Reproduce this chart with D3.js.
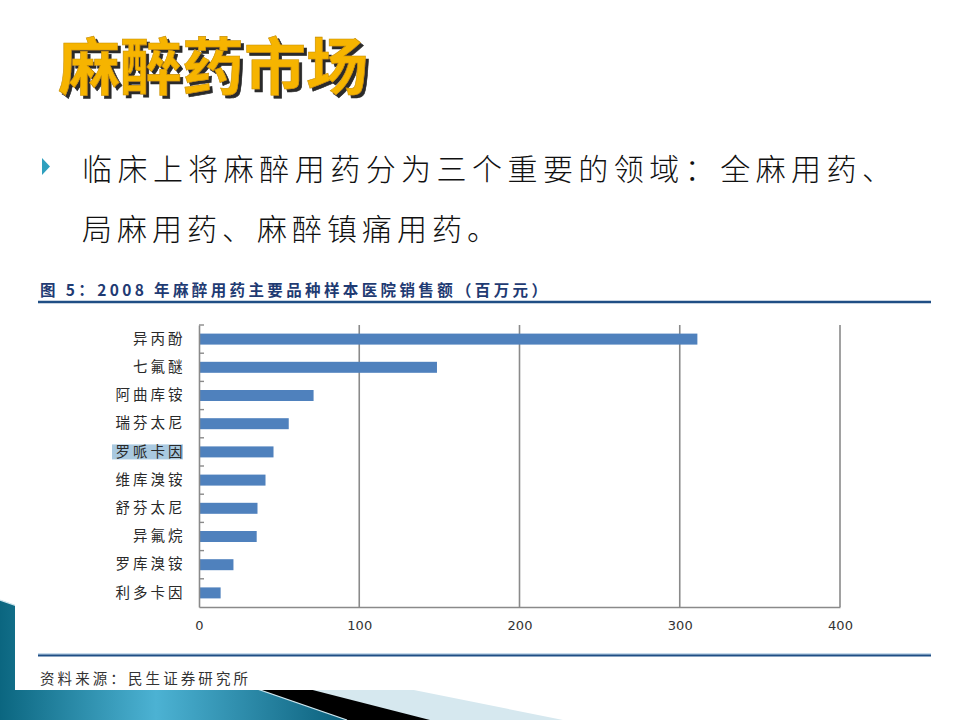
<!DOCTYPE html>
<html><head><meta charset="utf-8">
<script src="https://cdn.jsdelivr.net/npm/d3@7"></script>
<style>html,body{margin:0;padding:0;background:#fff;}svg{display:block;}</style>
</head><body>
<script>
const titleText = "麻醉药市场";
const bulletLines = ["临床上将麻醉用药分为三个重要的领域：全麻用药、", "局麻用药、麻醉镇痛用药。"];
const chartTitle = "图 5：2008 年麻醉用药主要品种样本医院销售额（百万元）";
const sourceText = "资料来源：民生证券研究所";
const categories = ["异丙酚","七氟醚","阿曲库铵","瑞芬太尼","罗哌卡因","维库溴铵","舒芬太尼","异氟烷","罗库溴铵","利多卡因"];
const sales = [311, 148.5, 71.5, 56, 46.5, 41.5, 36.5, 36, 21.5, 13.5];
const xTicks = [0, 100, 200, 300, 400];
const highlighted = "罗哌卡因";

const W = 960, H = 720;
const svg = d3.select("body").append("svg").attr("width", W).attr("height", H);
const defs = svg.append("defs");
const g1 = defs.append("linearGradient").attr("id","teal").attr("x1","0").attr("y1","0").attr("x2","1").attr("y2","0");
g1.append("stop").attr("offset","0").attr("stop-color","#0b6680");
g1.append("stop").attr("offset","0.45").attr("stop-color","#4cb2d3");
g1.append("stop").attr("offset","1").attr("stop-color","#0a5f7b");
const f = defs.append("filter").attr("id","shadow").attr("x","-10%").attr("y","-10%").attr("width","130%").attr("height","130%");
f.append("feDropShadow").attr("dx",3).attr("dy",3).attr("stdDeviation",0.6).attr("flood-color","#2b2b2b").attr("flood-opacity",1);

// slide decoration bottom-left
svg.append("polygon").attr("points","0,607 563,720 0,720").attr("fill","#d6e8ef");
svg.append("polygon").attr("points","0,610 430,720 0,720").attr("fill","#000");
svg.append("polygon").attr("points","0,600 347,720 0,720").attr("fill","url(#teal)");
svg.append("line").attr("x1",0).attr("y1",600).attr("x2",347).attr("y2",720).attr("stroke","#cfe6ee").attr("stroke-width",1.2);

// white chart image background
svg.append("rect").attr("x",15).attr("y",258).attr("width",945).attr("height",432).attr("fill","#fff");

// title
svg.append("text").attr("x",58).attr("y",90).text(titleText)
  .attr("font-family","Noto Sans CJK SC").attr("font-weight",700).attr("font-size",62)
  .attr("fill","#f6b400").attr("stroke","#c98f00").attr("stroke-width",0.6)
  .attr("filter","url(#shadow)");

// bullet
svg.append("polygon").attr("points","42,158 50,166.5 42,175").attr("fill","#2fa0be");
const lineY = [166.5, 227];
const lineLen = [810, 415];
bulletLines.forEach((t,i)=>{
  svg.append("text").attr("x",82).attr("y",lineY[i]).attr("dominant-baseline","central")
    .attr("font-family","Noto Sans CJK SC").attr("font-weight",300).attr("font-size",30)
    .attr("fill","#111").attr("textLength",lineLen[i]).attr("lengthAdjust","spacing").text(t);
});

// chart header
svg.append("text").attr("x",40).attr("y",289).attr("dominant-baseline","central")
  .attr("font-family","Noto Sans CJK SC").attr("font-weight",700).attr("font-size",15.5)
  .attr("fill","#1f3b73").attr("textLength",507).attr("lengthAdjust","spacing").text(chartTitle);
svg.append("line").attr("x1",38).attr("x2",931).attr("y1",302).attr("y2",302).attr("stroke","#1f4e85").attr("stroke-width",2.5);
svg.append("line").attr("x1",38).attr("x2",931).attr("y1",654).attr("y2",654).attr("stroke","#8fb6d8").attr("stroke-width",1);
svg.append("line").attr("x1",38).attr("x2",931).attr("y1",655.5).attr("y2",655.5).attr("stroke","#1f4e85").attr("stroke-width",2.2);
svg.append("text").attr("x",40).attr("y",677).attr("dominant-baseline","central")
  .attr("font-family","Noto Sans CJK SC").attr("font-size",14.5)
  .attr("fill","#333").attr("textLength",208).attr("lengthAdjust","spacing").text(sourceText);

// chart
const x = d3.scaleLinear().domain([0,400]).range([199,840]);
const y = d3.scaleBand().domain(categories).range([325,607]).paddingInner(0.61).paddingOuter(0.305);
const axisColor = "#8a8a8a";

// gridlines
svg.append("g").selectAll("line").data(xTicks.filter(d=>d>0)).join("line")
  .attr("x1",d=>x(d)).attr("x2",d=>x(d)).attr("y1",325).attr("y2",607)
  .attr("stroke",axisColor).attr("stroke-width",1.6);

// highlight behind label
svg.append("rect").attr("x",112).attr("y",y(highlighted)+y.bandwidth()/2-7.5).attr("width",71).attr("height",15).attr("fill","#a9c9e0");

// bars
svg.append("g").selectAll("rect").data(categories).join("rect")
  .attr("x",x(0)).attr("y",d=>y(d)).attr("height",y.bandwidth())
  .attr("width",(d,i)=>x(sales[i])-x(0)).attr("fill","#4f81bd");

// x axis
const xa = svg.append("g").attr("transform","translate(0,607)")
  .call(d3.axisBottom(x).tickValues(xTicks).tickSize(0).tickPadding(14));
xa.select(".domain").attr("stroke",axisColor).attr("stroke-width",1.6);
xa.selectAll("text").attr("font-family","DejaVu Sans").attr("font-size",13).attr("fill","#333");

// y axis
const ya = svg.append("g").attr("transform","translate(199,0)")
  .call(d3.axisLeft(y).tickSize(0).tickPadding(13.5));
ya.select(".domain").attr("stroke",axisColor).attr("stroke-width",1.6);
ya.selectAll("text").attr("font-family","Noto Sans CJK SC").attr("font-size",14.5)
  .attr("fill","#2a2a2a").attr("letter-spacing","3px");
// inner ticks at band boundaries
const bounds = categories.map(c=>y(c)-y.step()*y.paddingInner()/2);
svg.append("g").selectAll("line").data(bounds).join("line")
  .attr("x1",199).attr("x2",204).attr("y1",d=>d).attr("y2",d=>d)
  .attr("stroke",axisColor).attr("stroke-width",1.4);
</script>
</body></html>
